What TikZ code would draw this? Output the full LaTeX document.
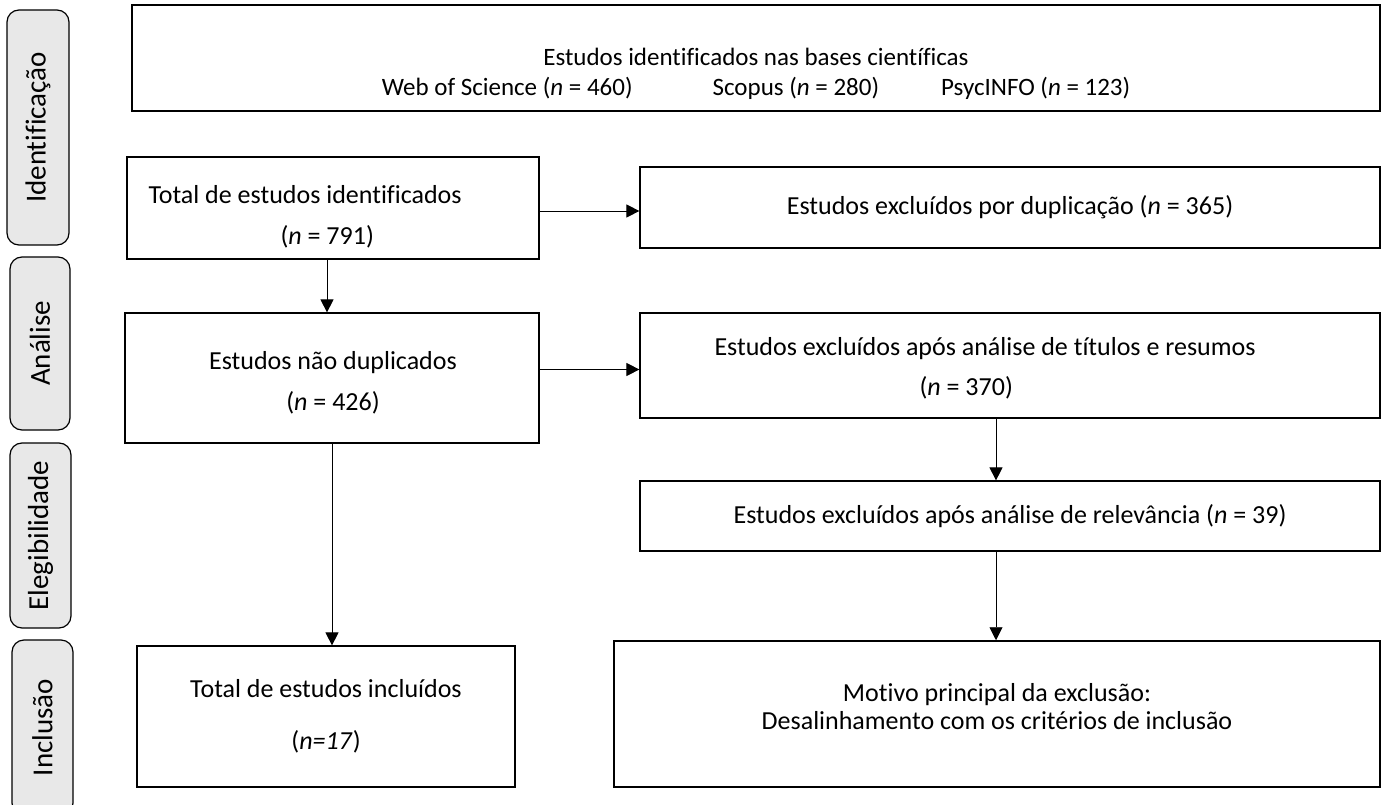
\documentclass[tikz,border=0pt]{standalone}
\usepackage{fontspec}
\setmainfont[Ligatures=NoCommon]{Carlito}
\usetikzlibrary{positioning,arrows.meta}

\begin{document}
\begin{tikzpicture}[x=1pt,y=-1pt,
  every node/.style={font=\fontsize{26}{31}\selectfont},
  box/.style={draw,line width=1.2pt,inner sep=0pt,align=center},
  phase/.style={draw,line width=1.2pt,rounded corners=12pt,fill=gray!18,inner sep=0pt,rotate=90,
    font=\fontsize{29}{34}\selectfont},
  arr/.style={-{Triangle[length=13pt,width=13pt]},line width=0.9pt}]
\useasboundingbox (0,0) rectangle (1387,805);

% fases
\node [phase,minimum width=235,minimum height=62] (p1) at (38,127.5) {Identificação};
\node [phase,minimum width=173,minimum height=60] (p2) at (40,343.5) {Análise};
\node [phase,minimum width=185,minimum height=61] (p3) at (40.5,535.5) {Elegibilidade};
\node [phase,minimum width=175,minimum height=61] (p4) at (42.5,727.5) {Inclusão};

% caixas
\node [box,line width=1.8pt,minimum width=1248,minimum height=106] (bases) at (756,58) {};
\node [align=center,font=\fontsize{25}{30}\selectfont] (basesT) at (756,74)
  {Estudos identificados nas bases científicas\\
   Web of Science (\textit{n} = 460)\hspace{80pt}Scopus (\textit{n} = 280)\hspace{62pt}PsycINFO (\textit{n} = 123)};
\node [box,minimum width=412,minimum height=102] (total) at (333,208) {};
\node [align=left,anchor=west] (totalT) at (145,217)
  {Total de estudos identificados\\[10pt]\hspace*{132pt}(\textit{n} = 791)};
\node [box,minimum width=740,minimum height=81] (dup) at (1010,207.5)
  {Estudos excluídos por duplicação (\textit{n} = 365)};
\node [box,minimum width=414,minimum height=130] (nondup) at (332,378) {};
\node [align=center] (nondupT) at (333,383)
  {Estudos não duplicados\\[10pt](\textit{n} = 426)};
\node [box,minimum width=740,minimum height=105] (tit) at (1010,365.5) {};
\node [align=left,anchor=west] (titT) at (711,368)
  {Estudos excluídos após análise de títulos e resumos\\[9pt]\hspace*{205pt}(\textit{n} = 370)};
\node [box,minimum width=740,minimum height=70] (rel) at (1010,516)
  {Estudos excluídos após análise de relevância (\textit{n} = 39)};
\node [box,minimum width=378,minimum height=141] (incl) at (326,716.5)
  {Total de estudos incluídos\\[21pt](\textit{n=17})};
\node [box,line width=1.5pt,minimum width=766,minimum height=146] (mot) at (997,714) {};
\node [align=center] (motT) at (997,707)
  {Motivo principal da exclusão:\\[-3pt]Desalinhamento com os critérios de inclusão};

% setas
\draw [arr] ([yshift=-3pt]total.east) -- ([yshift=-3pt]total.east -| dup.west);
\draw [arr] ([xshift=-6pt]total.south) -- ([xshift=-6pt]total.south |- nondup.north);
\draw [arr] ([yshift=-4pt]tit.west -| nondup.east) -- ([yshift=-4pt]tit.west);
\draw [arr] (nondup.south) -- (nondup.south |- incl.north);
\coordinate (c1) at ([xshift=-14pt]tit.south);
\draw [arr] (c1) -- (c1 |- rel.north);
\coordinate (c2) at ([xshift=-14pt]rel.south);
\draw [arr] (c2) -- (c2 |- mot.north);
\end{tikzpicture}
\end{document}
